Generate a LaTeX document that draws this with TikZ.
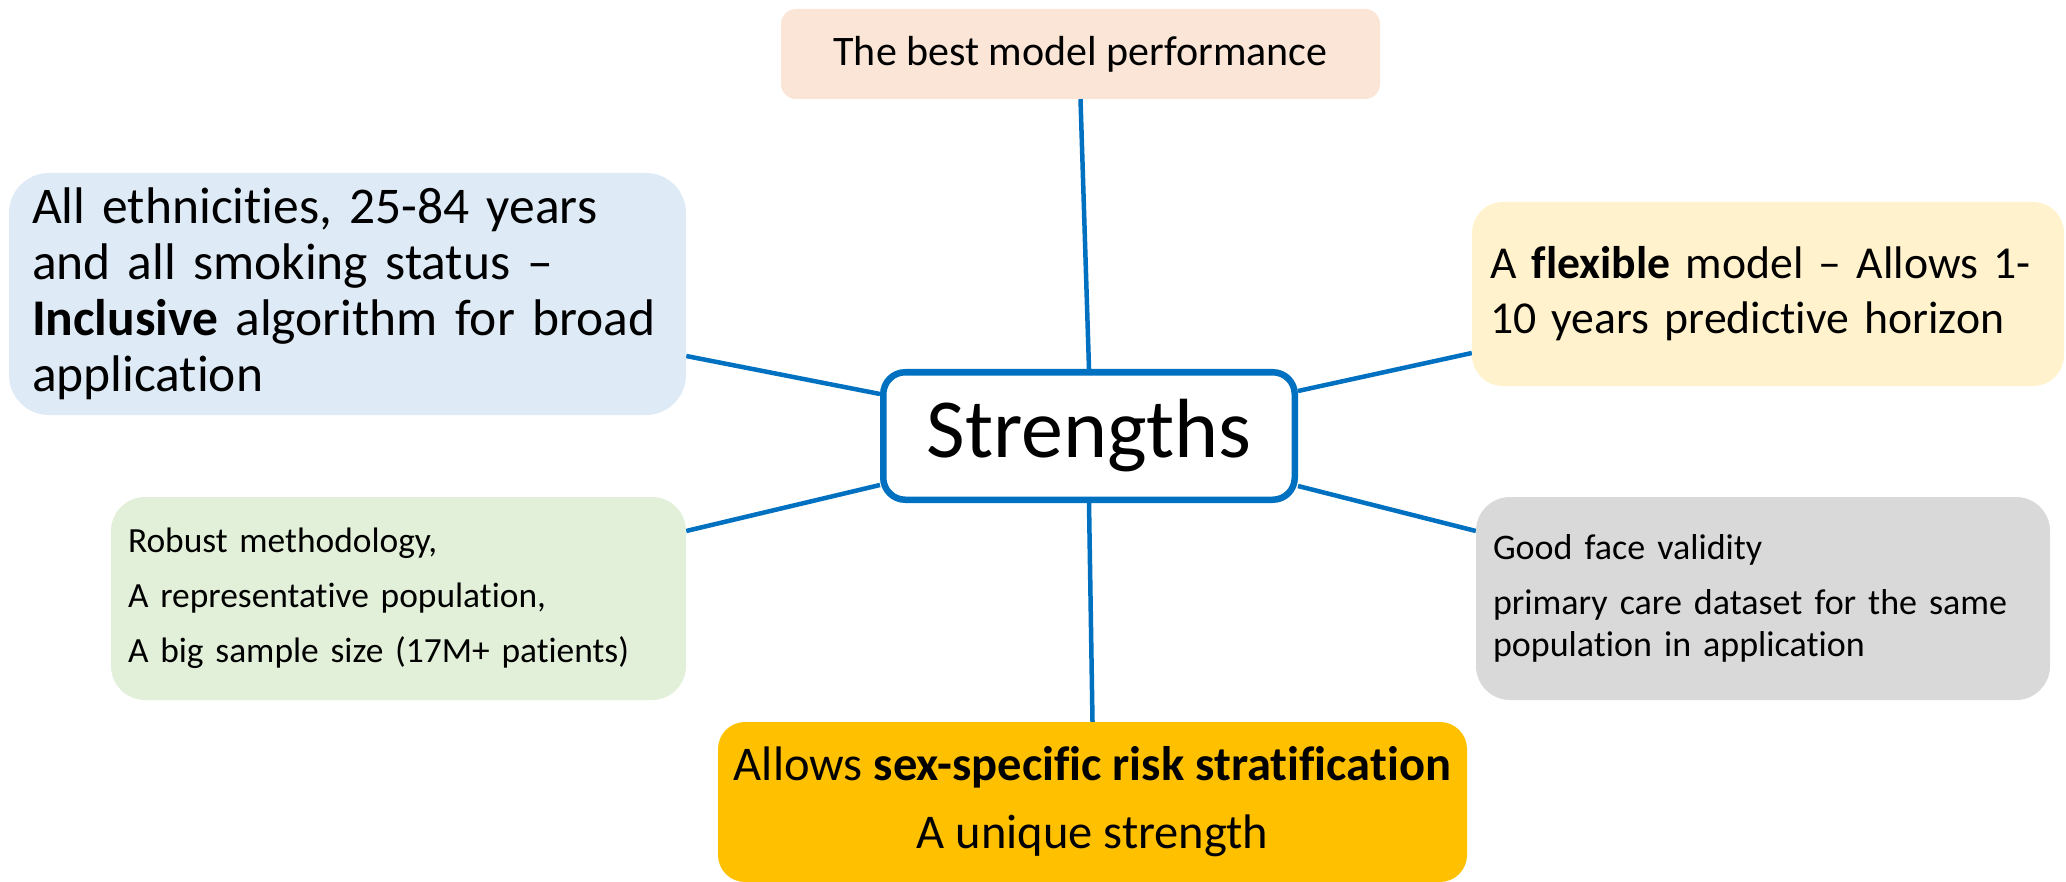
\documentclass[tikz,border=0pt]{standalone}
\usepackage{fontspec}
\setmainfont{Carlito}[RawFeature=-liga]
\usetikzlibrary{calc,backgrounds}
\definecolor{linkblue}{HTML}{0070C0}
\definecolor{peach}{HTML}{FBE5D6}
\definecolor{paleblue}{HTML}{DEEBF7}
\definecolor{paleyellow}{HTML}{FFF2CC}
\definecolor{palegreen}{HTML}{E2F0D9}
\definecolor{palegrey}{HTML}{D9D9D9}
\definecolor{amber}{HTML}{FFC000}
\begin{document}
\begin{tikzpicture}[x=1pt,y=-1pt,
  card/.style={draw=none, inner ysep=0pt, align=left, anchor=center},
  hub/.style={draw=linkblue, line width=6.5pt, fill=white, rounded corners=22pt,
              minimum width=411.5pt, minimum height=127.5pt, inner sep=0pt,
              font=\fontsize{84}{96}\selectfont},
  link/.style={draw=linkblue, line width=4.5pt}]
\useasboundingbox (0,0) rectangle (2066,882);

% central hub
\node[hub] (c) at (1089,436) {Strengths};

% surrounding cards
\node[card, fill=peach, rounded corners=15pt, minimum width=599pt, minimum height=90pt,
      align=center, font=\fontsize{42}{50}\selectfont] (top) at (1080.5,54)
  {The best model performance};

\node[card, fill=paleblue, rounded corners=40pt, minimum height=242pt,
      inner xsep=23pt, text width=631pt, font=\fontsize{51.5}{56}\selectfont] (blue) at (347.5,294)
  {\mbox{All ethnicities, 25-84 years}\\
   \mbox{and all smoking status --}\\
   \mbox{\textbf{Inclusive} algorithm for broad}\\
   application};

\node[card, fill=paleyellow, rounded corners=31pt, minimum height=184pt,
      inner xsep=18pt, text width=556pt, font=\fontsize{45.7}{55}\selectfont] (yellow) at (1768,294)
  {\mbox{A \textbf{flexible} model -- Allows 1-}\\
   \mbox{10 years predictive horizon}};

\node[card, fill=palegreen, rounded corners=34pt, minimum height=203pt,
      inner xsep=17pt, text width=541pt, font=\fontsize{35.4}{55}\selectfont] (green) at (398.5,598.5)
  {Robust methodology,\\
   A representative population,\\
   \mbox{A big sample size (17M+ patients)}};

\node[card, fill=palegrey, rounded corners=34pt, minimum height=203pt,
      inner xsep=17pt, text width=540pt, font=\fontsize{36}{42}\selectfont] (grey) at (1763,598.5)
  {Good face validity\\[13pt]
   \mbox{primary care dataset for the same}\\
   population in application};

\node[card, fill=amber, rounded corners=27pt, minimum width=749pt, minimum height=160pt,
      align=center, font=\fontsize{48.5}{68}\selectfont] (bottom) at (1092.5,802)
  {Allows \textbf{sex-specific risk stratification}\\
   A unique strength};

% connectors from the hub to each card
\begin{scope}[on background layer]
  \draw[link] (top.south) -- (c.north);
  \draw[link] (c.south) -- (bottom.north);
  \draw[link] ($(blue.east)+(0,62)$) -- ($(c.west)+(0,-42)$);
  \draw[link] ($(green.east)+(0,-67.5)$) -- ($(c.west)+(0,49)$);
  \draw[link] ($(c.east)+(0,-45)$) -- ($(yellow.west)+(0,59)$);
  \draw[link] ($(c.east)+(0,50)$) -- ($(grey.west)+(0,-67.5)$);
\end{scope}
\end{tikzpicture}
\end{document}
